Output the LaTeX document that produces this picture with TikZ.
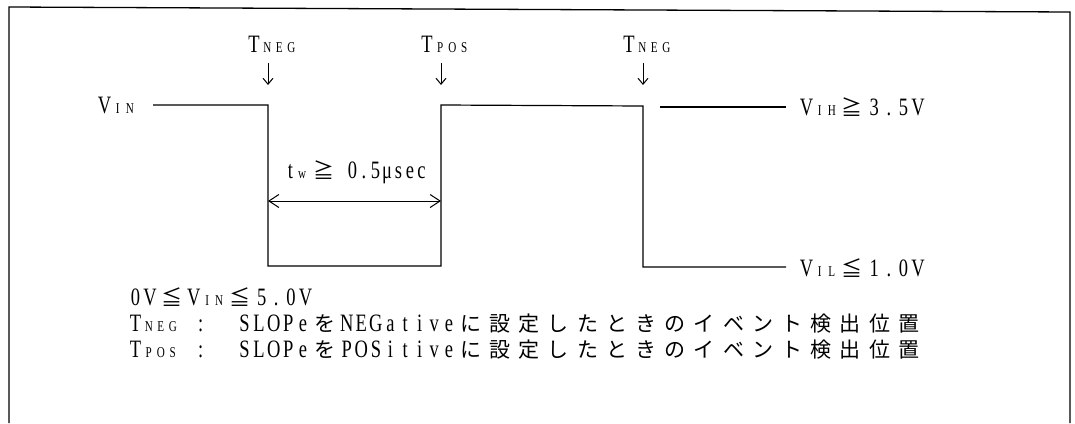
\documentclass[tikz,border=0pt]{standalone}
\usepackage{fontspec}
\usetikzlibrary{arrows.meta}
\newfontfamily\latf{Liberation Serif}[FakeStretch=0.74]
\newfontfamily\jpf{Noto Sans CJK JP}
\newlength\cw \setlength\cw{14.6pt}
\newcommand\hc[1]{\makebox[\cw][c]{#1}}
\newcommand\fc[1]{\makebox[2\cw][c]{\jpf\fontsize{21}{21}\selectfont #1}}
\def\lat#1{\latA#1\relax}
\def\latA#1{\ifx\relax#1\else\hc{#1}\expandafter\latA\fi}
\def\jpn#1{\jpnA#1\relax}
\def\jpnA#1{\ifx\relax#1\else\fc{#1}\expandafter\jpnA\fi}
\newcommand\sbs[1]{{\fontsize{15}{15}\selectfont\setlength\cw{12pt}\lat{#1}}}
\tikzset{
  sig/.style={line width=1.2pt},
  frm/.style={line width=1.3pt},
  lbl/.style={font=\latf\fontsize{25}{27}\selectfont, inner sep=0pt, anchor=base west},
  txt/.style={font=\latf\fontsize{25}{27}\selectfont, inner sep=0pt, anchor=base west},
  darr/.style={line width=1pt, -{Straight Barb[length=6pt,width=10pt]}},
  dim/.style={line width=1pt, {Straight Barb[length=10pt,width=13pt]}-{Straight Barb[length=10pt,width=13pt]}}
}
\begin{document}
\begin{tikzpicture}[x=1pt,y=-1pt]
\useasboundingbox (0,0) rectangle (1075,423);
\fill[white] (0,0) rectangle (1075,423);
% frame
\coordinate (f0) at (9,423);
\coordinate (f1) at (9,7);
\coordinate (f2) at (1070,12);
\coordinate (f3) at (1070,423);
\draw[frm] (f0) -- (f1) -- (f2) -- (f3);
% waveform
\coordinate (a0) at (153,105);
\coordinate (a1) at (268,105);
\coordinate (a2) at (268,266);
\coordinate (a3) at (441,266);
\coordinate (a4) at (441,105);
\coordinate (a5) at (643,106);
\coordinate (a6) at (643,267);
\coordinate (a7) at (786,267);
\coordinate (b0) at (660,107);
\coordinate (b1) at (786,107);
\draw[sig] (a0) -- (a1) -- (a2) -- (a3) -- (a4) -- (a5) -- (a6) -- (a7);
\draw[sig] (b0) -- (b1);
% labels
\node[lbl] (vin) at (97,113) {\lat{V}\sbs{IN}};
\node[lbl] (vih) at (799,115) {\lat{V}\sbs{IH}\fc{≧}\lat{3.5V}};
\node[lbl] (vil) at (799,276) {\lat{V}\sbs{IL}\fc{≦}\lat{1.0V}};
\node[lbl, anchor=base] (tn1) at (272,52) {\lat{T}\sbs{NEG}};
\node[lbl, anchor=base] (tp) at (445,52) {\lat{T}\sbs{POS}};
\node[lbl, anchor=base] (tn2) at (647,52) {\lat{T}\sbs{NEG}};
% event arrows
\coordinate (e1s) at (268,63); \coordinate (e1e) at (268,85);
\coordinate (e2s) at (441,63); \coordinate (e2e) at (441,85);
\coordinate (e3s) at (643,63); \coordinate (e3e) at (643,85);
\draw[darr] (e1s) -- (e1e);
\draw[darr] (e2s) -- (e2e);
\draw[darr] (e3s) -- (e3e);
% pulse width
\coordinate (w0) at (268,201);
\coordinate (w1) at (441,201);
\draw[dim] (w0) -- (w1);
\node[lbl, anchor=base] (tw) at (356,178) {\setlength\cw{11.5pt}\lat{t}\sbs{w}\kern4pt\fc{≧}\hc{}\lat{0.5}\hc{μ}\lat{sec}};
% notes
\node[txt] (n1) at (128,305) {\lat{0V}\fc{≦}\lat{V}\sbs{IN}\fc{≦}\lat{5.0V}};
\node[txt] (n2) at (128,331) {\lat{T}\sbs{NEG}\hc{}\hc{:}\hc{}\hc{}\lat{SLOPe}\fc{を}\lat{NEGative}\fc{に}\jpn{設定したときのイベント検出位置}};
\node[txt] (n3) at (128,357) {\lat{T}\sbs{POS}\hc{}\hc{:}\hc{}\hc{}\lat{SLOPe}\fc{を}\lat{POSitive}\fc{に}\jpn{設定したときのイベント検出位置}};
\end{tikzpicture}
\end{document}
